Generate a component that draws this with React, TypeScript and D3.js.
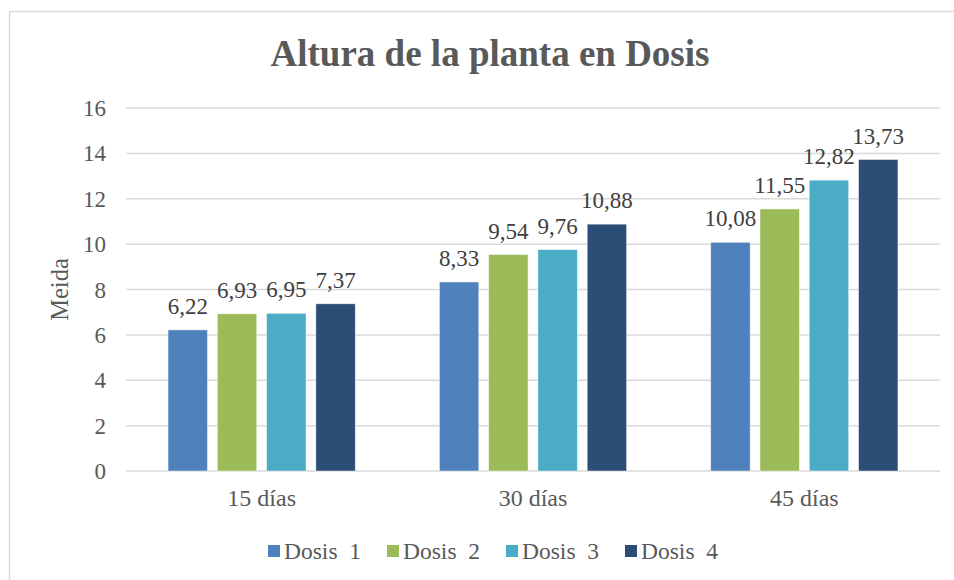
import * as d3 from 'd3'
import React from 'react'

const categories = ['15 días', '30 días', '45 días']
const seriesNames = ['Dosis  1', 'Dosis  2', 'Dosis  3', 'Dosis  4']
const dosis1 = [6.22, 8.33, 10.08]
const dosis2 = [6.93, 9.54, 11.55]
const dosis3 = [6.95, 9.76, 12.82]
const dosis4 = [7.37, 10.88, 13.73]
const yTicks = [0, 2, 4, 6, 8, 10, 12, 14, 16]
const colors = ['#4F81BD', '#9BBB59', '#4BACC6', '#2C4D75']

const WIDTH = 954
const HEIGHT = 580
const FONT = "'Liberation Serif', 'Times New Roman', serif"

export default function App() {
  const series = [dosis1, dosis2, dosis3, dosis4]
  const plot = { left: 126, right: 940, top: 108, bottom: 471 }

  const x = d3
    .scaleBand()
    .domain(categories)
    .range([plot.left, plot.right])
    .paddingInner(0.31)
    .paddingOuter(0.155)
  const xInner = d3
    .scaleBand()
    .domain(seriesNames)
    .range([0, x.bandwidth()])
    .paddingInner(0.2)
  const y = d3.scaleLinear().domain([0, 16]).range([plot.bottom, plot.top])

  const fmt = (v: number) => v.toFixed(2).replace('.', ',')

  const legendX = 268
  const legendStep = 119

  return (
    <svg
      width={WIDTH}
      height={HEIGHT}
      style={{ position: 'absolute', left: 0, top: 0, background: '#fff', fontFamily: FONT }}
    >
      <rect x={9.5} y={11.5} width={990} height={600} fill="#fff" stroke="#d9d9d9" strokeWidth={1.5} />
      <text x={490} y={66} textAnchor="middle" fontSize={37} fontWeight="bold" fill="#595959">
        Altura de la planta en Dosis
      </text>

      {yTicks.map(t => (
        <g key={t}>
          <line x1={plot.left} x2={plot.right} y1={y(t)} y2={y(t)} stroke="#d9d9d9" strokeWidth={1.5} />
          <text x={106} y={y(t)} dy="0.35em" textAnchor="end" fontSize={23} fill="#595959">
            {t}
          </text>
        </g>
      ))}

      <text
        transform={`translate(68, ${(plot.top + plot.bottom) / 2}) rotate(-90)`}
        textAnchor="middle"
        fontSize={24.5}
        fill="#595959"
      >
        Meida
      </text>

      {categories.map((c, ci) => (
        <g key={c}>
          {series.map((s, si) => {
            const bx = (x(c) as number) + (xInner(seriesNames[si]) as number)
            const bw = xInner.bandwidth()
            return (
              <g key={si}>
                <rect
                  x={bx}
                  y={y(s[ci])}
                  width={bw}
                  height={y(0) - y(s[ci])}
                  fill={colors[si]}
                  stroke="#ffffff"
                  strokeOpacity={0.6}
                  strokeWidth={0.75}
                />
                <text x={bx + bw / 2} y={y(s[ci]) - 16} textAnchor="middle" fontSize={23} fill="#404040">
                  {fmt(s[ci])}
                </text>
              </g>
            )
          })}
          <text
            x={(x(c) as number) + x.bandwidth() / 2}
            y={506}
            textAnchor="middle"
            fontSize={24}
            fill="#595959"
          >
            {c}
          </text>
        </g>
      ))}

      {seriesNames.map((n, i) => (
        <g key={n} transform={`translate(${legendX + i * legendStep}, 551)`}>
          <rect x={0} y={-6} width={12} height={12} fill={colors[i]} />
          <text x={16} y={0} dy="0.35em" fontSize={23.5} fill="#595959" style={{ whiteSpace: 'pre' }}>
            {n}
          </text>
        </g>
      ))}
    </svg>
  )
}
